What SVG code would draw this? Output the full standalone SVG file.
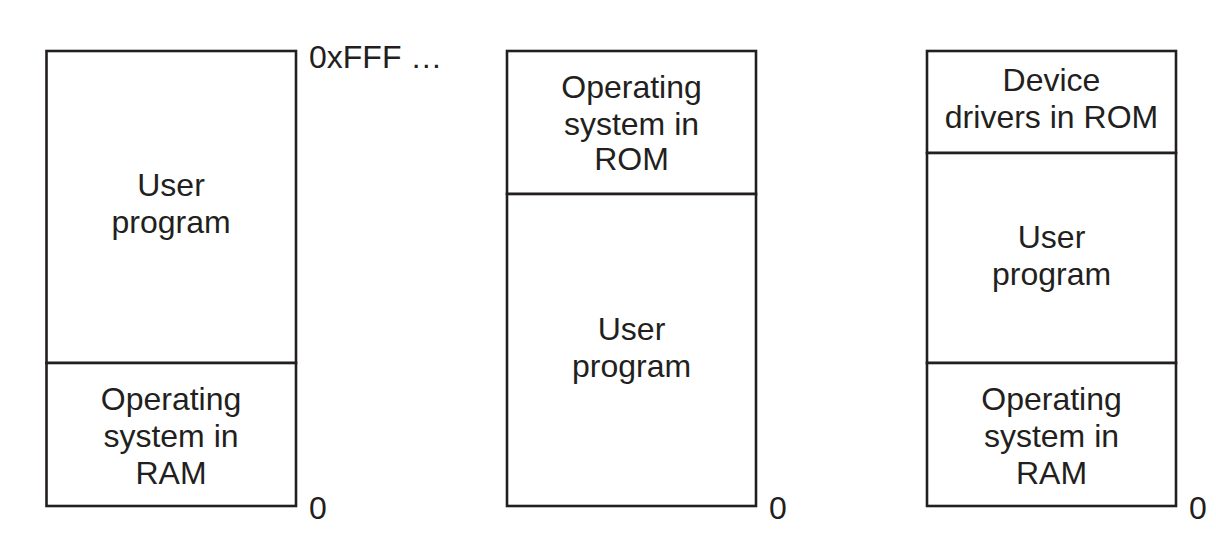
<svg xmlns="http://www.w3.org/2000/svg" width="1216" height="542" viewBox="0 0 1216 542">
<style>
.box{fill:#fff;stroke:#231f20;stroke-width:2.6}
.t{font-family:"Liberation Sans",Arial,sans-serif;font-size:32px;fill:#231f20;text-anchor:middle}
.l{font-family:"Liberation Sans",Arial,sans-serif;font-size:32px;fill:#231f20}
</style>
<rect width="1216" height="542" fill="#fff"/>
<g id="mem1">
<g id="m1-user"><rect class="box" x="46.5" y="51" width="249.5" height="312"/>
<text class="t" x="171" y="196">User</text><text class="t" x="171" y="233">program</text></g>
<g id="m1-os"><rect class="box" x="46.5" y="363" width="249.5" height="143"/>
<text class="t" x="171" y="410">Operating</text><text class="t" x="171" y="447">system in</text><text class="t" x="171" y="484">RAM</text></g>
<text class="l" x="309" y="68">0xFFF …</text>
<text class="l" x="309" y="519">0</text>
</g>
<g id="mem2">
<g id="m2-os"><rect class="box" x="507" y="51" width="249" height="143"/>
<text class="t" x="631.5" y="98">Operating</text><text class="t" x="631.5" y="135">system in</text><text class="t" x="631.5" y="170">ROM</text></g>
<g id="m2-user"><rect class="box" x="507" y="194" width="249" height="312"/>
<text class="t" x="631.5" y="340">User</text><text class="t" x="631.5" y="377">program</text></g>
<text class="l" x="769" y="519">0</text>
</g>
<g id="mem3">
<g id="m3-dev"><rect class="box" x="927" y="51" width="249" height="102"/>
<text class="t" x="1051.5" y="91">Device</text><text class="t" x="1051.5" y="128">drivers in ROM</text></g>
<g id="m3-user"><rect class="box" x="927" y="153" width="249" height="210"/>
<text class="t" x="1051.5" y="248">User</text><text class="t" x="1051.5" y="285">program</text></g>
<g id="m3-os"><rect class="box" x="927" y="363" width="249" height="143"/>
<text class="t" x="1051.5" y="410">Operating</text><text class="t" x="1051.5" y="447">system in</text><text class="t" x="1051.5" y="484">RAM</text></g>
<text class="l" x="1189" y="519">0</text>
</g>
<g id="connectors"/>
</svg>
